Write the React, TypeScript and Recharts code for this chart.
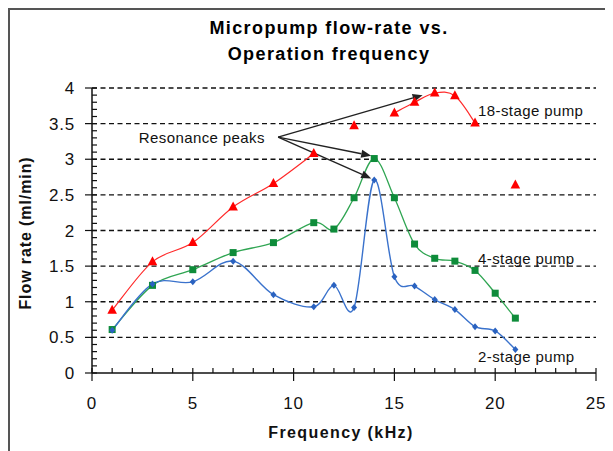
import React from 'react';
import { ComposedChart, Line, XAxis, YAxis, CartesianGrid, ReferenceLine, ReferenceDot } from 'recharts';

// ---- Data ----
const freq2 = [1, 3, 5, 7, 9, 11, 12, 13, 14, 15, 16, 17, 18, 19, 20, 21];
const flow2 = [0.6, 1.25, 1.28, 1.57, 1.1, 0.93, 1.23, 0.92, 2.71, 1.35, 1.22, 1.03, 0.89, 0.65, 0.59, 0.33];

const freq4 = [1, 3, 5, 7, 9, 11, 12, 13, 14, 15, 16, 17, 18, 19, 20, 21];
const flow4 = [0.61, 1.23, 1.45, 1.69, 1.83, 2.11, 2.02, 2.46, 3.01, 2.46, 1.81, 1.61, 1.57, 1.44, 1.12, 0.77];

const freq18 = [1, 3, 5, 7, 9, 11, 13, 15, 16, 17, 18, 19, 21];
const flow18 = [0.88, 1.56, 1.83, 2.33, 2.66, 3.08, 3.47, 3.65, 3.8, 3.93, 3.89, 3.51, 2.64];
const breaks18 = [11, 13, 19]; // the 18-stage line is not drawn after these points

const xLabels = [0, 5, 10, 15, 20, 25];
const yLabels = [0, 0.5, 1, 1.5, 2, 2.5, 3, 3.5, 4];
const gridValues = [0.5, 1, 1.5, 2, 2.5, 3, 3.5, 4];

const arrowStart = { x: 9.23, y: 3.31 };
const arrowEnds = [
  { x: 16.4, y: 3.9 },
  { x: 13.85, y: 3.05 },
  { x: 13.85, y: 2.73 },
];

const seriesLabels = [
  { text: '18-stage pump', x: 19.15, y: 3.68 },
  { text: '4-stage pump', x: 19.15, y: 1.61 },
  { text: '2-stage pump', x: 19.15, y: 0.23 },
];
const annotation = { text: 'Resonance peaks', x: 5.45, y: 3.31 };

// ---- helpers ----
const xMinor: number[] = [];
for (let i = 0; i <= 25; i++) xMinor.push(i);
const yMinor: number[] = [];
for (let i = 0; i <= 40; i++) yMinor.push(i / 10);

const zip = (xs: number[], ys: number[]) => xs.map((x, i) => ({ x, y: ys[i] }));
const data2 = zip(freq2, flow2);
const data4 = zip(freq4, flow4);
const data18: { x: number; y: number | null }[] = [];
freq18.forEach((x, i) => {
  data18.push({ x, y: flow18[i] });
  if (breaks18.includes(x)) data18.push({ x: x + 0.5, y: null });
});

const FONT = '"Liberation Sans", Arial, sans-serif';

// Excel-like smoothed line (Catmull-Rom as cubic Bezier)
const excelSmooth: any = (context: any) => {
  let pts: number[][] = [];
  return {
    areaStart() {},
    areaEnd() {},
    lineStart() {
      pts = [];
    },
    lineEnd() {
      const n = pts.length;
      if (!n) return;
      context.moveTo(pts[0][0], pts[0][1]);
      if (n === 1) {
        context.lineTo(pts[0][0], pts[0][1]);
        return;
      }
      for (let i = 0; i < n - 1; i++) {
        const p0 = pts[Math.max(0, i - 1)];
        const p1 = pts[i];
        const p2 = pts[i + 1];
        const p3 = pts[Math.min(n - 1, i + 2)];
        const c1x = p1[0] + (p2[0] - p0[0]) / 6;
        const c1y = p1[1] + (p2[1] - p0[1]) / 6;
        const c2x = p2[0] - (p3[0] - p1[0]) / 6;
        const c2y = p2[1] - (p3[1] - p1[1]) / 6;
        context.bezierCurveTo(c1x, c1y, c2x, c2y, p2[0], p2[1]);
      }
    },
    point(x: number, y: number) {
      pts.push([+x, +y]);
    },
  };
};

const XTick = (p: any) => {
  const { x, y, payload } = p;
  const v = payload.value;
  const major = xLabels.includes(v);
  return (
    <g>
      <line x1={x} x2={x} y1={y - 5} y2={major ? y + 8 : y} stroke="#111" strokeWidth={1.2} />
      {major && (
        <text x={x} y={y + 36} textAnchor="middle" fontSize={17} fill="#111" fontFamily={FONT} letterSpacing={0.8}>
          {v}
        </text>
      )}
    </g>
  );
};

const YTick = (p: any) => {
  const { x, y, payload } = p;
  const v = payload.value;
  const major = yLabels.some((l) => Math.abs(l - v) < 1e-6);
  return (
    <g>
      <line x1={major ? x - 7 : x} x2={x + 5} y1={y} y2={y} stroke="#111" strokeWidth={1.2} />
      {major && (
        <text x={x - 17} y={y + 6} textAnchor="end" fontSize={17} fill="#111" fontFamily={FONT} letterSpacing={0.8}>
          {String(Math.round(v * 10) / 10)}
        </text>
      )}
    </g>
  );
};

const triDot = (p: any) => {
  const { cx, cy, index } = p;
  if (cy == null || isNaN(cy)) return <g key={`t-${index}`} />;
  return <path key={`t-${index}`} d={`M${cx},${cy - 5.5} L${cx + 4.8},${cy + 3.5} L${cx - 4.8},${cy + 3.5} Z`} fill="#FF0000" />;
};
const sqDot = (p: any) => {
  const { cx, cy, index } = p;
  if (cy == null || isNaN(cy)) return <g key={`s-${index}`} />;
  return <rect key={`s-${index}`} x={cx - 3.5} y={cy - 3.5} width={7} height={7} fill="#0E8C3A" />;
};
const diaDot = (p: any) => {
  const { cx, cy, index } = p;
  if (cy == null || isNaN(cy)) return <g key={`d-${index}`} />;
  return <path key={`d-${index}`} d={`M${cx},${cy - 3.5} L${cx + 3},${cy} L${cx},${cy + 3.5} L${cx - 3},${cy} Z`} fill="#2A62C0" />;
};

const arrowShape = (p: any) => {
  const { x1, y1, x2, y2 } = p;
  const ang = Math.atan2(y2 - y1, x2 - x1);
  const L = 10;
  const W = 4;
  const bx = x2 - L * Math.cos(ang);
  const by = y2 - L * Math.sin(ang);
  const px = -Math.sin(ang) * W;
  const py = Math.cos(ang) * W;
  return (
    <g>
      <line x1={x1} y1={y1} x2={bx} y2={by} stroke="#222" strokeWidth={1.4} />
      <path d={`M${x2},${y2} L${bx + px},${by + py} L${bx - px},${by - py} Z`} fill="#222" />
    </g>
  );
};

export default function App() {
  return (
    <div
      style={{
        position: 'relative', width: 603, height: 441, background: '#fff', overflow: 'hidden',
        borderLeft: '2px solid #555', borderTop: '2px solid #555',
      }}
    >
      <ComposedChart width={603} height={441} margin={{ top: 78, right: 17, left: 22, bottom: 28 }}>
        <CartesianGrid vertical={false} horizontalValues={gridValues} stroke="#111" strokeDasharray="5 3.5" strokeWidth={1.3} />
        <XAxis
          type="number"
          dataKey="x"
          domain={[0, 25]}
          ticks={xMinor}
          interval={0}
          height={50}
          tickSize={0}
          tickMargin={0}
          tick={XTick}
          axisLine={{ stroke: '#111', strokeWidth: 1.5 }}
          allowDuplicatedCategory={false}
        />
        <YAxis
          type="number"
          domain={[0, 4]}
          ticks={yMinor}
          interval={0}
          width={60}
          tickSize={0}
          tickMargin={0}
          tick={YTick}
          axisLine={{ stroke: '#111', strokeWidth: 1.5 }}
        />
        <Line data={data18} dataKey="y" type={excelSmooth} stroke="#FF2A2A" strokeWidth={1.2} dot={triDot} activeDot={false} isAnimationActive={false} connectNulls={false} />
        <Line data={data4} dataKey="y" type={excelSmooth} stroke="#2FA552" strokeWidth={1.3} dot={sqDot} activeDot={false} isAnimationActive={false} />
        <Line data={data2} dataKey="y" type={excelSmooth} stroke="#3A72CC" strokeWidth={1.4} dot={diaDot} activeDot={false} isAnimationActive={false} />
        {arrowEnds.map((e, i) => (
          <ReferenceLine key={`arr-${i}`} segment={[arrowStart, e]} shape={arrowShape} ifOverflow="visible" />
        ))}
        {seriesLabels.map((l, i) => (
          <ReferenceDot
            key={`lab-${i}`}
            x={l.x}
            y={l.y}
            r={0}
            ifOverflow="visible"
            shape={(p: any) => (
              <text x={p.cx} y={p.cy + 5.5} fontSize={15} fill="#111" fontFamily={FONT} letterSpacing={0.4}>
                {l.text}
              </text>
            )}
          />
        ))}
        <ReferenceDot
          x={annotation.x}
          y={annotation.y}
          r={0}
          ifOverflow="visible"
          shape={(p: any) => (
            <text x={p.cx} y={p.cy + 5.5} textAnchor="middle" fontSize={15} fill="#111" fontFamily={FONT} letterSpacing={0.4}>
              {annotation.text}
            </text>
          )}
        />
      </ComposedChart>
      <div
        style={{
          position: 'absolute', left: 119, top: 5, width: 400, textAlign: 'center',
          fontFamily: FONT, fontWeight: 'bold', fontSize: 18, lineHeight: '26px', letterSpacing: 1.4, color: '#000',
        }}
      >
        Micropump flow-rate vs.
        <br />
        Operation frequency
      </div>
      <div
        style={{
          position: 'absolute', left: 231, top: 412, width: 200, textAlign: 'center',
          fontFamily: FONT, fontWeight: 'bold', fontSize: 16, lineHeight: '22px', letterSpacing: 1.4, color: '#111',
        }}
      >
        Frequency (kHz)
      </div>
      <div
        style={{
          position: 'absolute', left: 16 - 100, top: 223 - 11, width: 200, textAlign: 'center',
          transform: 'rotate(-90deg)', transformOrigin: '100px 11px',
          fontFamily: FONT, fontWeight: 'bold', fontSize: 16, lineHeight: '22px', letterSpacing: 0.9, color: '#111',
        }}
      >
        Flow rate (ml/min)
      </div>
    </div>
  );
}
